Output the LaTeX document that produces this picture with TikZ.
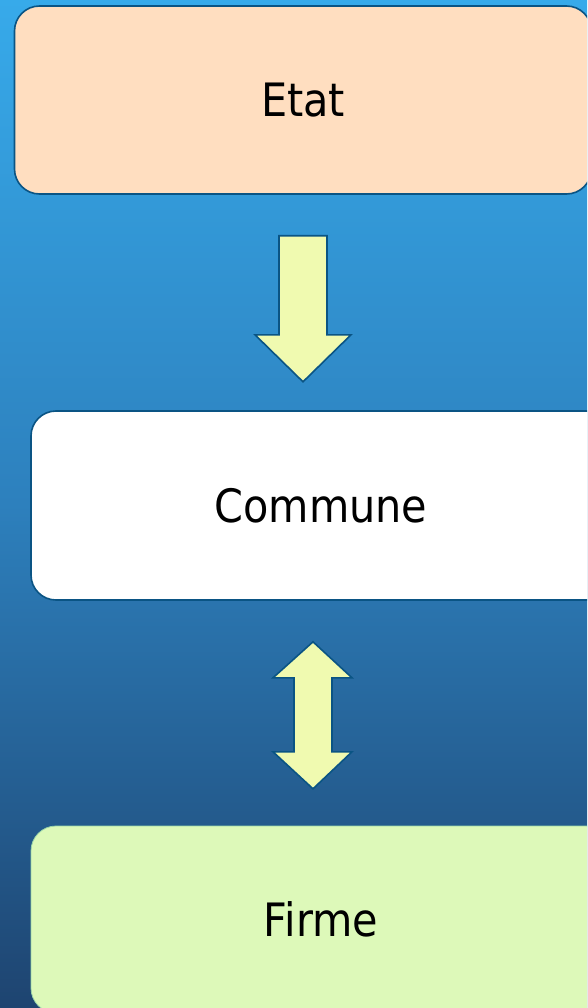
\documentclass[tikz,border=0pt]{standalone}
\usepackage{fontspec}
\setmainfont{DejaVu Sans}[FakeStretch=0.9]
\usetikzlibrary{calc}
\definecolor{bgtop}{RGB}{55,170,234}
\definecolor{bgmid}{RGB}{45,128,189}
\definecolor{bgbot}{RGB}{30,68,112}
\definecolor{edge}{RGB}{10,84,132}
\definecolor{peach}{RGB}{255,222,192}
\definecolor{lime}{RGB}{221,249,185}
\definecolor{arrowfill}{RGB}{240,250,176}
\tikzset{
  box/.style={rounded corners=25pt, draw=edge, line width=1.6pt, inner sep=0pt,
    font=\fontsize{46}{52}\selectfont, text=black},
  blockarrow/.style={fill=arrowfill, draw=edge, line width=1.6pt, line join=miter}
}
\begin{document}
\begin{tikzpicture}[x=1pt,y=-1pt]
\useasboundingbox (0,0) rectangle (587,1008);
\clip (0,0) rectangle (587,1008);
\shade[top color=bgtop, bottom color=bgbot, middle color=bgmid] (0,0) rectangle (587,1008);
\node[box, fill=peach, minimum width=577pt, minimum height=188pt] (etat) at (303,100) {\raisebox{-2pt}{Etat}};
\node[box, fill=white, minimum width=580pt, minimum height=189pt] (commune) at (321,505.5) {\raisebox{-1pt}{Commune}};
\node[box, fill=lime, draw=lime!70!teal, line width=0.8pt, minimum width=580pt, minimum height=187pt] (firme) at (321,919.5) {\raisebox{-1pt}{Firme}};
% arrow Etat -> Commune
\coordinate (a1) at ($(etat.south)+(0,41)$);
\draw[blockarrow] ($(a1)+(-24,0)$) -- ($(a1)+(24,0)$) -- ($(a1)+(24,99)$) -- ($(a1)+(48,99)$)
  -- ($(a1)+(0,146)$) -- ($(a1)+(-48,99)$) -- ($(a1)+(-24,99)$) -- cycle;
% double arrow Commune <-> Firme
\coordinate (a2) at ($(commune.south)+(-8,41)$);
\draw[blockarrow] (a2) -- ($(a2)+(39,36)$) -- ($(a2)+(19,36)$) -- ($(a2)+(19,110)$) -- ($(a2)+(39,110)$)
  -- ($(a2)+(0,147)$) -- ($(a2)+(-40,110)$) -- ($(a2)+(-19,110)$) -- ($(a2)+(-19,36)$) -- ($(a2)+(-40,36)$) -- cycle;
\end{tikzpicture}
\end{document}
